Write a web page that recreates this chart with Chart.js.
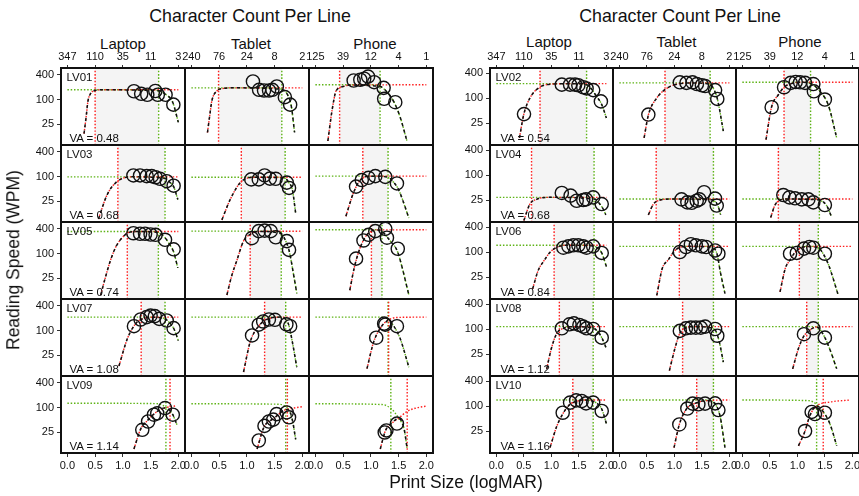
<!DOCTYPE html>
<html>
<head>
<meta charset="utf-8">
<script src="https://cdn.jsdelivr.net/npm/chart.js@4.4.1/dist/chart.umd.min.js"></script>
<style>
  html, body { margin: 0; padding: 0; background: #fff; overflow: hidden; }
  #stage { position: relative; width: 859px; height: 496px; overflow: hidden;
           font-family: "Liberation Sans", Arial, Helvetica, sans-serif; color: #111; }
  #stage canvas { position: absolute; }
  .txt { position: absolute; white-space: nowrap; line-height: 1; }
  .mid { transform: translate(-50%, -50%); }
  .title { font-size: 17.8px; }
  .strip { font-size: 15px; }
  .axt { font-size: 17.5px; }
  .lv { font-size: 11.5px; }
</style>
</head>
<body>
<div id="stage"></div>
<script>
const devices = ["Laptop", "Tablet", "Phone"];
const charLabels = [
  ["347", "110", "35", "11", "3"],
  ["240", "76", "24", "8", "2"],
  ["125", "39", "12", "4", "1"],
];
const logmarTicks = [0, 0.5, 1, 1.5, 2];
const speedTicks = [25, 100, 400];
const subjects = ["LV01", "LV02", "LV03", "LV04", "LV05", "LV06", "LV07", "LV08", "LV09", "LV10"];
const acuity = [0.48, 0.54, 0.68, 0.68, 0.74, 0.84, 1.08, 1.12, 1.14, 1.16];

// every array below: [laptop, tablet, phone]
// pts = measured reading speed [logMAR, wpm], red = rising fit, green = falling fit
// cps = red vertical line, lps = green vertical line, cross = where the black fit switches branch
const LV01_pts = [
  [[1.20, 158], [1.33, 137], [1.44, 130], [1.585, 160], [1.63, 130], [1.77, 130], [1.91, 75]],
  [[1.11, 271], [1.22, 171], [1.31, 165], [1.40, 165], [1.46, 171], [1.54, 206], [1.685, 114], [1.78, 75]],
  [[0.69, 287], [0.81, 299], [0.88, 317], [0.95, 357], [1.06, 261], [1.23, 191], [1.24, 104], [1.44, 86]],
];
const LV01_red = [
  [[0.30, 15], [0.34, 40], [0.37, 90], [0.42, 140], [0.50, 165], [0.60, 171], [2.0, 171]],
  [[0.29, 16], [0.33, 40], [0.37, 94], [0.46, 160], [0.58, 185], [0.70, 191], [2.0, 191]],
  [[0.225, 10], [0.30, 54], [0.376, 164], [0.50, 205], [0.60, 222], [2.0, 226]],
];
const LV01_green = [
  [[0, 171], [1.50, 171], [1.65, 162], [1.78, 130], [1.90, 85], [2.0, 28]],
  [[0, 191], [1.50, 191], [1.63, 175], [1.72, 140], [1.80, 70], [1.86, 16]],
  [[0, 226], [1.05, 226], [1.17, 205], [1.29, 152], [1.42, 85], [1.53, 37], [1.65, 10]],
];
const LV01_cps = [0.50, 0.49, 0.437];
const LV01_lps = [1.645, 1.63, 1.166];
const LV01_cross = [1.645, 1.63, 1.166];

const LV02_pts = [
  [[0.503, 41], [1.19, 210], [1.34, 210], [1.43, 210], [1.49, 203], [1.58, 182], [1.64, 170], [1.76, 155], [1.90, 83]],
  [[0.527, 40], [1.10, 239], [1.22, 231], [1.33, 239], [1.41, 217], [1.50, 203], [1.56, 194], [1.74, 155], [1.78, 95]],
  [[0.533, 60], [0.758, 182], [0.879, 231], [0.97, 243], [1.05, 239], [1.14, 231], [1.29, 217], [1.30, 145], [1.50, 92]],
];
const LV02_red = [
  [[0.42, 11], [0.50, 41], [0.61, 100], [0.79, 182], [1.04, 218], [1.30, 222], [2.0, 222]],
  [[0.45, 11], [0.53, 40], [0.68, 100], [0.86, 170], [1.04, 215], [1.30, 231], [2.0, 231]],
  [[0.43, 10], [0.53, 60], [0.655, 120], [0.758, 182], [0.93, 230], [1.10, 239], [2.0, 239]],
];
const LV02_green = [
  [[0, 222], [1.55, 222], [1.64, 210], [1.72, 170], [1.82, 110], [1.915, 70], [2.0, 33]],
  [[0, 231], [1.55, 231], [1.65, 215], [1.72, 160], [1.78, 97], [1.89, 16]],
  [[0, 239], [1.15, 239], [1.24, 225], [1.41, 145], [1.56, 69], [1.715, 11]],
];
const LV02_cps = [0.794, 0.83, 0.758];
const LV02_lps = [1.64, 1.65, 1.24];
const LV02_cross = [1.64, 1.65, 1.24];

const LV03_pts = [
  [[1.19, 106], [1.31, 106], [1.43, 102], [1.52, 102], [1.59, 96], [1.67, 88], [1.79, 77], [1.915, 60]],
  [[1.08, 85], [1.215, 85], [1.32, 106], [1.415, 89], [1.52, 88], [1.72, 71], [1.76, 53]],
  [[0.733, 57], [0.836, 82], [0.958, 93], [1.08, 102], [1.26, 98], [1.47, 68]],
];
const LV03_red = [
  [[0.56, 9.5], [0.715, 36], [0.867, 70], [1.02, 93], [1.15, 98], [2.0, 98]],
  [[0.55, 9], [0.70, 28], [0.88, 71], [1.03, 93], [1.15, 96], [2.0, 96]],
  [[0.55, 11], [0.685, 40], [0.82, 85], [0.99, 102], [2.0, 102]],
];
const LV03_green = [
  [[0, 98], [1.65, 98], [1.76, 90], [1.85, 72], [1.92, 55], [1.99, 28]],
  [[0, 96], [1.60, 96], [1.69, 90], [1.76, 70], [1.82, 48], [1.88, 13]],
  [[0, 102], [1.20, 102], [1.31, 96], [1.40, 75], [1.50, 48], [1.685, 10]],
];
const LV03_cps = [0.91, 0.90, 0.855];
const LV03_lps = [1.76, 1.69, 1.31];
const LV03_cross = [1.76, 1.69, 1.31];

const LV04_pts = [
  [[1.19, 37], [1.35, 32], [1.46, 24], [1.58, 25], [1.63, 26], [1.76, 29], [1.915, 20]],
  [[1.13, 26], [1.236, 22], [1.315, 21.5], [1.406, 24], [1.455, 26], [1.54, 38.5], [1.74, 27], [1.77, 18.4]],
  [[0.745, 33], [0.855, 29], [0.958, 27.5], [1.08, 26], [1.20, 26], [1.29, 22], [1.50, 19]],
];
const LV04_red = [
  [[0.50, 8], [0.61, 20], [0.73, 26], [0.915, 29], [2.0, 29]],
  [[0.527, 11], [0.62, 20], [0.74, 25], [0.92, 26.4], [2.0, 26.4]],
  [[0.515, 9.5], [0.594, 19], [0.685, 25], [0.80, 26.4], [2.0, 26.4]],
];
const LV04_green = [
  [[0, 29], [1.70, 29], [1.80, 26], [1.88, 20], [1.945, 15], [1.99, 11]],
  [[0, 26.4], [1.65, 26.4], [1.71, 25], [1.80, 17], [1.84, 11]],
  [[0, 26.4], [1.35, 26.4], [1.40, 25], [1.53, 18.5], [1.62, 10]],
];
const LV04_cps = [0.64, 0.67, 0.655];
const LV04_lps = [1.776, 1.71, 1.40];
const LV04_cross = [1.776, 1.71, 1.40];

const LV05_pts = [
  [[1.19, 308], [1.31, 299], [1.40, 299], [1.50, 287], [1.59, 282], [1.76, 214], [1.915, 126]],
  [[1.09, 234], [1.215, 345], [1.32, 356], [1.43, 345], [1.52, 246], [1.72, 199], [1.76, 122]],
  [[0.733, 75], [0.867, 206], [0.958, 282], [1.08, 345], [1.26, 393], [1.29, 240], [1.485, 130]],
];
const LV05_red = [
  [[0.60, 10], [0.68, 25], [0.776, 68], [0.88, 150], [1.0, 250], [1.10, 320], [1.25, 338], [2.0, 338]],
  [[0.64, 10], [0.73, 30], [0.82, 68], [0.94, 200], [1.06, 290], [1.20, 340], [2.0, 345]],
  [[0.62, 13], [0.70, 45], [0.80, 130], [0.90, 250], [1.0, 340], [1.10, 370], [2.0, 372]],
];
const LV05_green = [
  [[0, 338], [1.55, 338], [1.64, 320], [1.76, 240], [1.85, 160], [1.915, 110], [1.99, 45]],
  [[0, 345], [1.50, 345], [1.62, 300], [1.70, 200], [1.76, 120], [1.85, 27], [1.90, 11]],
  [[0, 372], [1.10, 372], [1.20, 340], [1.35, 200], [1.47, 120], [1.53, 68], [1.685, 10]],
];
const LV05_cps = [1.08, 1.06, 1.01];
const LV05_lps = [1.64, 1.62, 1.20];
const LV05_cross = [1.64, 1.62, 1.20];

const LV06_pts = [
  [[1.218, 127], [1.31, 137], [1.40, 145], [1.49, 145], [1.58, 137], [1.64, 127], [1.76, 137], [1.915, 95]],
  [[1.10, 100], [1.21, 132], [1.30, 154], [1.39, 145], [1.50, 137], [1.576, 132], [1.74, 109], [1.80, 91]],
  [[0.867, 91], [0.99, 95], [1.12, 121], [1.22, 132], [1.29, 127], [1.50, 91]],
];
const LV06_red = [
  [[0.66, 13], [0.76, 36], [0.86, 60], [0.98, 100], [1.10, 130], [1.25, 145], [2.0, 145]],
  [[0.68, 9], [0.78, 40], [0.89, 65], [1.0, 105], [1.10, 130], [1.25, 137], [2.0, 137]],
  [[0.685, 11], [0.78, 40], [0.867, 65], [0.95, 95], [1.036, 120], [1.15, 135], [2.0, 137]],
];
const LV06_green = [
  [[0, 145], [1.70, 145], [1.776, 140], [1.85, 120], [1.915, 95], [2.0, 45]],
  [[0, 137], [1.62, 137], [1.71, 125], [1.78, 85], [1.83, 36], [1.92, 10]],
  [[0, 137], [1.30, 137], [1.38, 128], [1.46, 95], [1.56, 52], [1.745, 9]],
];
const LV06_cps = [1.05, 1.09, 1.036];
const LV06_lps = [1.776, 1.71, 1.38];
const LV06_cross = [1.776, 1.71, 1.38];

const LV07_pts = [
  [[1.20, 127], [1.32, 184], [1.43, 210], [1.50, 229], [1.576, 222], [1.655, 191], [1.79, 174], [1.915, 114]],
  [[1.094, 76], [1.215, 138], [1.294, 165], [1.397, 184], [1.506, 181], [1.712, 141], [1.78, 127]],
  [[1.097, 67], [1.24, 146], [1.26, 138], [1.47, 127]],
];
const LV07_red = [
  [[0.93, 14], [1.08, 63], [1.23, 146], [1.35, 190], [1.50, 208], [2.0, 210]],
  [[0.94, 10], [1.06, 53], [1.24, 140], [1.43, 200], [1.60, 210], [2.0, 210]],
  [[0.93, 12], [1.05, 53], [1.20, 130], [1.29, 170], [1.45, 205], [2.0, 210]],
];
const LV07_green = [
  [[0, 210], [1.65, 210], [1.76, 190], [1.85, 150], [1.92, 110], [2.0, 57]],
  [[0, 210], [1.60, 210], [1.70, 185], [1.76, 130], [1.82, 53], [1.90, 13]],
  [[0, 210], [1.20, 210], [1.31, 185], [1.41, 130], [1.53, 63], [1.685, 13]],
];
const LV07_cps = [1.33, 1.32, 1.32];
const LV07_lps = [1.76, 1.70, 1.31];
const LV07_cross = [1.76, 1.70, 1.31];

const LV08_pts = [
  [[1.19, 104], [1.33, 130], [1.41, 137], [1.51, 125], [1.58, 114], [1.64, 104], [1.76, 100], [1.915, 62]],
  [[1.10, 90], [1.21, 104], [1.30, 108], [1.39, 108], [1.48, 108], [1.56, 114], [1.74, 100], [1.78, 69]],
  [[1.12, 75], [1.29, 104], [1.50, 62]],
];
const LV08_red = [
  [[0.915, 11], [1.0, 34], [1.10, 79], [1.22, 104], [1.35, 114], [2.0, 114]],
  [[0.91, 10], [1.01, 34], [1.10, 80], [1.20, 105], [1.30, 114], [2.0, 114]],
  [[0.915, 11], [1.02, 34], [1.11, 65], [1.23, 95], [1.35, 112], [2.0, 114]],
];
const LV08_green = [
  [[0, 114], [1.68, 114], [1.76, 105], [1.85, 85], [1.915, 62], [2.0, 34]],
  [[0, 114], [1.62, 114], [1.71, 105], [1.80, 60], [1.89, 16]],
  [[0, 114], [1.30, 114], [1.38, 108], [1.50, 62], [1.60, 30], [1.715, 11]],
];
const LV08_cps = [1.145, 1.15, 1.17];
const LV08_lps = [1.76, 1.71, 1.38];
const LV08_cross = [1.76, 1.71, 1.38];

const LV09_pts = [
  [[1.35, 29], [1.455, 46], [1.56, 67], [1.62, 72], [1.76, 97], [1.90, 67]],
  [[1.215, 16], [1.318, 36], [1.397, 46], [1.476, 51], [1.536, 69], [1.718, 76], [1.76, 58]],
  [[1.25, 25], [1.28, 28], [1.47, 41]],
];
const LV09_red = [
  [[1.20, 10], [1.32, 30], [1.44, 48], [1.59, 75], [1.745, 97], [1.87, 105], [1.97, 110]],
  [[1.185, 10], [1.306, 33], [1.49, 55], [1.67, 85], [1.85, 97], [2.0, 105]],
  [[1.17, 10], [1.26, 27], [1.38, 42], [1.50, 55], [1.65, 80], [1.80, 96], [2.0, 108]],
];
const LV09_green = [
  [[0, 127], [1.60, 124], [1.72, 112], [1.80, 95], [1.90, 67], [1.976, 38]],
  [[0, 123], [1.55, 120], [1.68, 110], [1.75, 90], [1.82, 50], [1.88, 17]],
  [[0, 123], [1.20, 118], [1.36, 95], [1.45, 70], [1.50, 55], [1.60, 30], [1.655, 10]],
];
const LV09_cps = [1.85, 1.73, 1.655];
const LV09_lps = [1.776, 1.70, 1.36];
const LV09_cross = [1.776, 1.70, 1.50];

const LV10_pts = [
  [[1.206, 69], [1.34, 121], [1.45, 137], [1.55, 132], [1.63, 116], [1.76, 121], [1.915, 76]],
  [[1.09, 36], [1.236, 87], [1.333, 114], [1.436, 110], [1.558, 114], [1.74, 116], [1.80, 80]],
  [[1.14, 25], [1.26, 72], [1.32, 64], [1.50, 69]],
];
const LV10_red = [
  [[0.976, 10], [1.10, 33], [1.22, 69], [1.34, 110], [1.46, 130], [1.60, 140], [2.0, 140]],
  [[0.994, 10], [1.09, 36], [1.22, 85], [1.406, 120], [1.60, 135], [2.0, 140]],
  [[1.02, 11], [1.14, 25], [1.23, 60], [1.35, 100], [1.60, 125], [1.96, 140]],
];
const LV10_green = [
  [[0, 140], [1.65, 140], [1.76, 130], [1.85, 110], [1.915, 85], [2.0, 38]],
  [[0, 140], [1.60, 140], [1.71, 125], [1.83, 57], [1.92, 10]],
  [[0, 140], [1.20, 135], [1.35, 110], [1.50, 64], [1.60, 35], [1.715, 11]],
];
const LV10_cps = [1.39, 1.406, 1.47];
const LV10_lps = [1.76, 1.71, 1.35];
const LV10_cross = [1.76, 1.71, 1.36];

const fits = {
  LV01: { pts: LV01_pts, red: LV01_red, green: LV01_green, cps: LV01_cps, lps: LV01_lps, cross: LV01_cross },
  LV02: { pts: LV02_pts, red: LV02_red, green: LV02_green, cps: LV02_cps, lps: LV02_lps, cross: LV02_cross },
  LV03: { pts: LV03_pts, red: LV03_red, green: LV03_green, cps: LV03_cps, lps: LV03_lps, cross: LV03_cross },
  LV04: { pts: LV04_pts, red: LV04_red, green: LV04_green, cps: LV04_cps, lps: LV04_lps, cross: LV04_cross },
  LV05: { pts: LV05_pts, red: LV05_red, green: LV05_green, cps: LV05_cps, lps: LV05_lps, cross: LV05_cross },
  LV06: { pts: LV06_pts, red: LV06_red, green: LV06_green, cps: LV06_cps, lps: LV06_lps, cross: LV06_cross },
  LV07: { pts: LV07_pts, red: LV07_red, green: LV07_green, cps: LV07_cps, lps: LV07_lps, cross: LV07_cross },
  LV08: { pts: LV08_pts, red: LV08_red, green: LV08_green, cps: LV08_cps, lps: LV08_lps, cross: LV08_cross },
  LV09: { pts: LV09_pts, red: LV09_red, green: LV09_green, cps: LV09_cps, lps: LV09_lps, cross: LV09_cross },
  LV10: { pts: LV10_pts, red: LV10_red, green: LV10_green, cps: LV10_cps, lps: LV10_lps, cross: LV10_cross },
};

// page layout
const X_RANGE = [-0.115, 2.12];
const ROW_TOP = [68, 145, 222, 299, 376];
const ROW_H = 77;
const Y_AXIS_W = 40, TOP_AXIS_H = 20, BOTTOM_AXIS_H = 24, PAD = 12;
const RED = "#ff1f1f", GREEN = "#5eb316", SHADE = "#f4f4f4";
const panels = [
  { ids: ["LV01", "LV03", "LV05", "LV07", "LV09"], colLeft: [61, 185, 309], colW: 124, yRange: [8, 574], vaX: 8.5,
    title: [250, 17], strips: [[123, 43], [251, 43], [375, 43]] },
  { ids: ["LV02", "LV04", "LV06", "LV08", "LV10"], colLeft: [490, 613, 736], colW: 123, yRange: [7.4, 528], vaX: 10.5,
    title: [680, 17], strips: [[549, 41], [676.5, 41], [800, 41]] },
];

Chart.defaults.font.family = '"Liberation Sans", Arial, Helvetica, sans-serif';
Chart.defaults.font.size = 11;
Chart.defaults.color = "#111";

const stage = document.getElementById("stage");
const xy = (arr) => arr.map(([x, y]) => ({ x, y }));

function addText(cls, text, x, y, extra) {
  const el = document.createElement("div");
  el.className = "txt " + cls;
  el.textContent = text;
  el.style.left = x + "px";
  el.style.top = y + "px";
  if (extra) Object.assign(el.style, extra);
  stage.appendChild(el);
}

// shaded band + panel frame
const panelFrame = {
  id: "panelFrame",
  beforeDatasetsDraw(chart, args, opts) {
    const { ctx, chartArea: a } = chart;
    const x = chart.scales.x;
    if (opts.cps < opts.lps) {
      const x0 = x.getPixelForValue(opts.cps), x1 = x.getPixelForValue(opts.lps);
      ctx.save();
      ctx.fillStyle = SHADE;
      ctx.fillRect(x0, a.top, x1 - x0, a.bottom - a.top);
      ctx.restore();
    }
  },
  afterDraw(chart) {
    const { ctx, chartArea: a } = chart;
    ctx.save();
    ctx.strokeStyle = "#111";
    ctx.lineWidth = 2;
    ctx.strokeRect(a.left, a.top, a.right - a.left, a.bottom - a.top);
    ctx.restore();
  },
};

function dotted(data, color, order) {
  return { data, showLine: true, borderColor: color, borderWidth: 1.4, borderDash: [1.5, 1.8],
           pointRadius: 0, cubicInterpolationMode: "monotone", tension: 0.4, order };
}

// fixed axis thickness, only for the axes that are shown
const fixH = (h) => (s) => { if (s.options.display) s.height = h; };
const fixW = (w) => (s) => { if (s.options.display) s.width = w; };

function makeCell(panel, r, c) {
  const id = panel.ids[r];
  const f = fits[id];
  const [yMin, yMax] = panel.yRange;
  const padL = c === 0 ? Y_AXIS_W : PAD;
  const padT = r === 0 ? TOP_AXIS_H : PAD;
  const padB = r === 4 ? BOTTOM_AXIS_H : PAD;

  const canvas = document.createElement("canvas");
  canvas.width = padL + panel.colW + PAD;
  canvas.height = padT + ROW_H + padB;
  canvas.style.left = (panel.colLeft[c] - padL) + "px";
  canvas.style.top = (ROW_TOP[r] - padT) + "px";
  stage.appendChild(canvas);

  const cross = f.cross[c];
  const black = f.red[c].filter((p) => p[0] < cross).concat(f.green[c].filter((p) => p[0] >= cross));

  new Chart(canvas, {
    type: "scatter",
    data: {
      datasets: [
        { data: xy(f.pts[c]), showLine: false, pointRadius: 6.6, pointHoverRadius: 6.6, pointBorderWidth: 1.4,
          pointBorderColor: "#111", pointBackgroundColor: "rgba(0,0,0,0)", order: 0 },
        { data: xy(black), showLine: true, borderColor: "#111", borderWidth: 1.5, borderDash: [3.2, 3.2],
          pointRadius: 0, cubicInterpolationMode: "monotone", tension: 0.4, order: 1 },
        dotted(xy(f.red[c]), RED, 2),
        dotted(xy(f.green[c]), GREEN, 2),
        dotted([{ x: f.cps[c], y: yMin }, { x: f.cps[c], y: yMax }], RED, 3),
        dotted([{ x: f.lps[c], y: yMin }, { x: f.lps[c], y: yMax }], GREEN, 3),
      ],
    },
    options: {
      responsive: false,
      animation: false,
      devicePixelRatio: 1,
      events: [],
      layout: { padding: { left: c === 0 ? 0 : PAD, right: PAD, top: r === 0 ? 0 : PAD, bottom: r === 4 ? 0 : PAD } },
      plugins: {
        legend: { display: false },
        tooltip: { enabled: false },
        panelFrame: { cps: f.cps[c], lps: f.lps[c] },
      },
      scales: {
        x: {
          type: "linear", position: "bottom", display: r === 4,
          min: X_RANGE[0], max: X_RANGE[1],
          afterBuildTicks: (s) => { s.ticks = logmarTicks.map((v) => ({ value: v })); },
          afterFit: fixH(BOTTOM_AXIS_H),
          ticks: { callback: (v) => Number(v).toFixed(1), autoSkip: false, maxRotation: 0, padding: 2 },
          grid: { drawOnChartArea: false, tickLength: 4, color: "#333" },
          border: { display: false },
        },
        x2: {
          type: "linear", axis: "x", position: "top", display: r === 0,
          min: X_RANGE[0], max: X_RANGE[1],
          afterBuildTicks: (s) => { s.ticks = logmarTicks.map((v) => ({ value: v })); },
          afterFit: fixH(TOP_AXIS_H),
          ticks: { callback: (v, i) => charLabels[c][i], autoSkip: false, maxRotation: 0, padding: 1 },
          grid: { drawOnChartArea: false, tickLength: 3, color: "#333" },
          border: { display: false },
        },
        y: {
          type: "logarithmic", display: c === 0, min: yMin, max: yMax,
          afterBuildTicks: (s) => { s.ticks = speedTicks.map((v) => ({ value: v })); },
          afterFit: fixW(Y_AXIS_W),
          ticks: { callback: (v) => String(v), padding: 3 },
          grid: { drawOnChartArea: false, tickLength: 4, color: "#333" },
          border: { display: false },
        },
      },
    },
    plugins: [panelFrame],
  });

  if (c === 0) {
    const left = panel.colLeft[0];
    addText("lv", id, left + 5.5, ROW_TOP[r] + 4.3);
    addText("lv", "VA = " + acuity[subjects.indexOf(id)].toFixed(2), left + panel.vaX, ROW_TOP[r] + ROW_H - 12.5);
  }
}

panels.forEach((panel) => {
  addText("title mid", "Character Count Per Line", panel.title[0], panel.title[1]);
  devices.forEach((d, c) => addText("strip mid", d, panel.strips[c][0], panel.strips[c][1]));
  for (let r = 0; r < 5; r++) for (let c = 0; c < 3; c++) makeCell(panel, r, c);
});

addText("axt mid", "Reading Speed (WPM)", 14, 260, { transform: "translate(-50%, -50%) rotate(-90deg)" });
addText("axt mid", "Print Size (logMAR)", 466, 483);
</script>
</body>
</html>
